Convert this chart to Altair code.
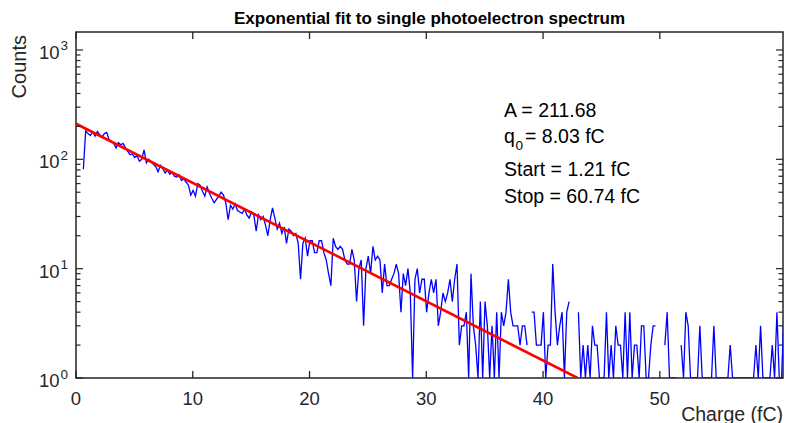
import altair as alt
import pandas as pd

TITLE = "Exponential fit to single photoelectron spectrum"
X_TITLE = "Charge (fC)"
Y_TITLE = "Counts"

# Histogram of the single photoelectron spectrum (counts per 0.2 fC bin); None = empty bin
bin_start = 0.63
bin_width = 0.2
counts = [
    81, 183, 172, 165, 178, 163, 180, 168, 160, 172,
    176, 152, 146, 140, 127, 142, 136, 140, 128, 118,
    110, 112, 104, 108, 96, 100, 122, 93, 100, 95,
    90, 86, 77, 88, 82, 75, 80, 73, 76, 70,
    69, 72, 64, 66, 62, 58, 47, 52, 46, 60,
    58, 51, 46, 56, 49, 44, 40, 43, 46, 50,
    47, 40, 28, 38, 35, 39, 34, 33, 32, 35,
    31, 29, 33, 31, 22, 31, 28, 30, 25, 20,
    28, 36, 29, 23, 26, 21, 24, 17, 23, 22,
    20, 21, 17, 8, 17, 19, 13, 18, 18, 14,
    14, 18, 18, 14, 12, 9, 7, 19, 16, 15,
    16, 15, 12, 11, 11, 15, 12, 5, 10, 12,
    3, 10, 13, 9, 16, 12, 13, 12, 6, 11,
    7, 7, 8, 9, 11, 9, 4, 9, 7, 10,
    6, 1, 8, 10, 6, 8, 8, 4, 6, 8,
    6, 8, 3, 4, 6, 5, 6, 8, 5, 8,
    11, 2, 3, 3, 4, 1, 9, 3, 2, 1,
    5, 1, 5, 3, 1, 3, 1, 4, 1, 4,
    3, 4, 8, 4, 3, 3, 3, 2, 3, 3,
    2, None, 4, 4, 2, 2, 2, 4, 1, 2,
    2, 11, 4, 2, 3, 4, 1, 4, 5, None,
    3, None, 4, 1, 2, 1, 2, 1, 3, 2,
    2, 1, 1, 1, 4, 1, 2, 1, 3, 2,
    2, 1, 4, 1, 4, 1, 2, 2, 1, 3,
    3, 1, 1, 2, 3, 3, None, 3, None, 2,
    4, 1, 1, 1, 1, None, 2, 1, 4, 3,
    1, 1, 1, 1, 3, 1, 1, 1, 1, 1,
    3, 1, 1, 1, 1, 1, 1, 2, 1, 1,
    1, 1, 1, 1, 1, 1, 1, 1, 2, 1,
    3, 1, 1, 1, 1, 2, 1, 4, 1, 1,
    4,
]
charge = [round(bin_start + bin_width * i, 2) for i in range(len(counts))]

# Exponential fit A*exp(-q/q0): straight on the log axis, end points
fit_charge = [0.0, 42.96]
fit_counts = [211.68, 1.0]

x_ticks = [0, 10, 20, 30, 40, 50]
y_major = [1, 10, 100, 1000]
y_exponents = ["0", "1", "2", "3"]
y_minor = [2, 3, 4, 5, 6, 7, 8, 9, 20, 30, 40, 50, 60, 70, 80, 90,
           200, 300, 400, 500, 600, 700, 800, 900]

annotation = ["A = 211.68", "q", "0", "= 8.03 fC", "Start = 1.21 fC", "Stop = 60.74 fC"]

FONT = "Liberation Sans"
AX = "#262626"
W, H = 707, 346

xscale = alt.Scale(domain=[0, 60.55], nice=False, zero=False)
yscale = alt.Scale(type="log", domain=[1, 1460], nice=False)

spec = pd.DataFrame({"charge": charge, "counts": counts})
fit = pd.DataFrame({"charge": fit_charge, "counts": fit_counts})

data_line = alt.Chart(spec).mark_line(color="#0000FF", strokeWidth=1.3, clip=True).encode(
    x=alt.X("charge:Q", scale=xscale, axis=None),
    y=alt.Y("counts:Q", scale=yscale, axis=None),
)
fit_line = alt.Chart(fit).mark_line(color="#FF0000", strokeWidth=2.6, clip=True).encode(
    x=alt.X("charge:Q", scale=xscale, axis=None),
    y=alt.Y("counts:Q", scale=yscale, axis=None),
)

def xtick(y0, y1):
    return alt.Chart(pd.DataFrame({"v": x_ticks})).mark_rule(color=AX, strokeWidth=1.3).encode(
        x=alt.X("v:Q", scale=xscale, axis=None), y=alt.value(y0), y2=alt.value(y1))

def ytick(vals, x0, x1):
    return alt.Chart(pd.DataFrame({"v": vals})).mark_rule(color=AX, strokeWidth=1.2).encode(
        y=alt.Y("v:Q", scale=yscale, axis=None), x=alt.value(x0), x2=alt.value(x1))

ticks = [
    xtick(H, H - 7), xtick(0, 7),
    ytick(y_major, 0, 7), ytick(y_major, W, W - 7),
    ytick(y_minor, 0, 4.5), ytick(y_minor, W, W - 4.5),
]

# tick labels (drawn through the scales)
x_labels = alt.Chart(pd.DataFrame({"v": x_ticks, "t": [str(v) for v in x_ticks]})).mark_text(
    align="center", baseline="alphabetic", font=FONT, fontSize=18.5, color=AX
).encode(x=alt.X("v:Q", scale=xscale, axis=None), y=alt.value(H + 27), text="t:N")

ylab_df = pd.DataFrame({"v": y_major, "base": ["10"] * len(y_major), "e": y_exponents})
y_labels_base = alt.Chart(ylab_df).mark_text(
    align="right", baseline="alphabetic", font=FONT, fontSize=18.5, color=AX, dy=9
).encode(y=alt.Y("v:Q", scale=yscale, axis=None), x=alt.value(-16.5), text="base:N")
y_labels_exp = alt.Chart(ylab_df).mark_text(
    align="left", baseline="alphabetic", font=FONT, fontSize=13.5, color=AX, dy=0.5
).encode(y=alt.Y("v:Q", scale=yscale, axis=None), x=alt.value(-15.5), text="e:N")

def label(text, x, y, size=19.5, color="black", align="left", angle=0, weight="normal"):
    return alt.Chart(pd.DataFrame({"t": [text]})).mark_text(
        align=align, baseline="alphabetic", font=FONT, fontSize=size, color=color,
        angle=angle, fontWeight=weight
    ).encode(x=alt.value(x), y=alt.value(y), text="t:N")

texts = [
    label(TITLE, W / 2, -8, size=17, align="center", weight="bold"),
    label(X_TITLE, W, 388.5, size=19.5, color=AX, align="right"),
    label(Y_TITLE, -50, 3, size=20, color=AX, align="right", angle=270),
    label(annotation[0], 428, 84.7),
    label(annotation[1], 428, 110.7),
    label(annotation[2], 439.5, 118, size=13.5),
    label(annotation[3], 449, 110.7),
    label(annotation[4], 428, 144),
    label(annotation[5], 428, 170.7),
]

chart = alt.layer(data_line, fit_line, *ticks, x_labels, y_labels_base, y_labels_exp, *texts).properties(
    width=W, height=H,
    autosize=alt.AutoSizeParams(type="none"),
    padding={"left": 76, "top": 32, "right": 2, "bottom": 45},
).configure_view(
    stroke=AX, strokeWidth=1.5
)

chart.save("out.html", embed_options={"renderer": "svg", "actions": False})
